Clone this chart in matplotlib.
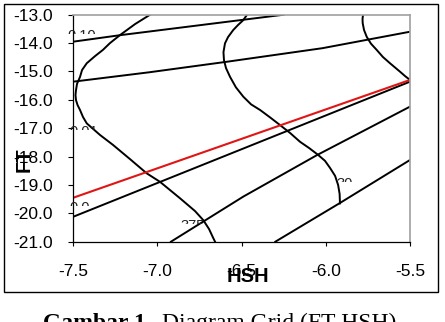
import matplotlib
matplotlib.use("Agg")
import matplotlib.pyplot as plt
from matplotlib.patches import Rectangle

# ---- data ----
line1_x = [-7.50, -7.22, -6.25]
line1_y = [-13.95, -13.72, -13.00]
line2_x = [-7.50, -7.05, -6.59, -6.02, -5.50]
line2_y = [-15.36, -15.03, -14.66, -14.18, -13.60]
red_x = [-7.50, -5.50]
red_y = [-19.45, -15.30]
line4_x = [-7.50, -5.50]
line4_y = [-20.12, -15.36]
line5_x = [-6.92, -6.49, -6.05, -5.50]
line5_y = [-21.00, -19.41, -17.94, -16.24]
line6_x = [-6.30, -5.92, -5.50]
line6_y = [-21.00, -19.65, -18.12]

curveA_x = [-7.044, -7.133, -7.223, -7.282, -7.324, -7.371, -7.420, -7.448,
            -7.460, -7.478, -7.484, -7.487, -7.484, -7.475, -7.460, -7.442,
            -7.420, -7.341, -7.264, -7.163, -7.064, -6.985, -6.866, -6.777,
            -6.728, -6.694, -6.668, -6.658]
curveA_y = [-13.00, -13.33, -13.72, -14.00, -14.24, -14.46, -14.71, -14.95,
            -15.19, -15.44, -15.66, -15.83, -16.01, -16.18, -16.36, -16.61,
            -16.83, -17.24, -17.59, -18.09, -18.59, -18.89, -19.47, -19.92,
            -20.24, -20.55, -20.88, -21.00]
curveB_x = [-6.468, -6.490, -6.521, -6.550, -6.581, -6.599, -6.608, -6.605,
            -6.593, -6.569, -6.534, -6.490, -6.444, -6.390, -6.331, -6.272,
            -6.212, -6.153, -6.099, -6.046, -6.005, -5.975, -5.945, -5.927,
            -5.918, -5.916]
curveB_y = [-13.00, -13.19, -13.36, -13.54, -13.79, -14.01, -14.32, -14.60,
            -14.88, -15.19, -15.56, -15.89, -16.16, -16.36, -16.62, -16.89,
            -17.17, -17.48, -17.70, -17.94, -18.15, -18.40, -18.68, -19.00,
            -19.32, -19.65]
curveC_x = [-5.779, -5.782, -5.781, -5.773, -5.757, -5.732, -5.698, -5.661,
            -5.619, -5.589, -5.559, -5.530, -5.500]
curveC_y = [-13.00, -13.15, -13.30, -13.54, -13.78, -14.02, -14.24, -14.49,
            -14.71, -14.86, -15.01, -15.16, -15.30]

label_texts = ["0.10", "0.01", "0.0", "375", "30"]
label_x = [-7.537, -7.525, -7.525, -6.866, -5.935]
label_y = [-13.50, -16.88, -19.56, -20.20, -18.72]

xticks = [-7.5, -7.0, -6.5, -6.0, -5.5]
yticks = [-21.0, -20.0, -19.0, -18.0, -17.0, -16.0, -15.0, -14.0, -13.0]

W, H = 445, 322
fig = plt.figure(figsize=(W / 100, H / 100), dpi=100)
fig.patch.set_facecolor("white")
plt.rcParams["font.family"] = ["Liberation Sans", "DejaVu Sans"]

ax = fig.add_axes([73.3 / W, 1 - 241.7 / H, (410 - 73.3) / W, (241.7 - 14.7) / H])

black_lines = [(line1_x, line1_y), (line2_x, line2_y), (line4_x, line4_y),
               (line5_x, line5_y), (line6_x, line6_y),
               (curveA_x, curveA_y), (curveB_x, curveB_y), (curveC_x, curveC_y)]
for xs, ys in black_lines:
    ax.plot(xs, ys, color="black", lw=1.4, solid_joinstyle="round")
ax.plot(red_x, red_y, color="#e01515", lw=1.5)

ax.set_xlim(-7.5, -5.5)
ax.set_ylim(-21.0, -13.0)
ax.set_xticks(xticks)
ax.set_yticks(yticks)
ax.set_xticklabels([f"{v:.1f}" for v in xticks])
ax.set_yticklabels([f"{v:.1f}" for v in yticks])
ax.tick_params(axis="y", direction="out", length=3.6, width=0.8, pad=11, labelsize=12.5)
ax.tick_params(axis="x", direction="out", length=3.2, width=0.8, pad=13, labelsize=12.5)
for s in ["left", "bottom"]:
    ax.spines[s].set_color("black")
    ax.spines[s].set_linewidth(0.9)
for s in ["top", "right"]:
    ax.spines[s].set_color("#a0a0a0")
    ax.spines[s].set_linewidth(1.2)

# partially hidden data labels
for t, x, y in zip(label_texts, label_x, label_y):
    txt = ax.text(x, y, t, fontsize=10.5, color="#222222", ha="left", va="top",
                  clip_on=True)
    clip = Rectangle((x - 0.5, y - 0.19), 1.5, 1.0, transform=ax.transData)
    txt.set_clip_path(clip)

# axis titles
fig.text(248 / W, 1 - 276 / H, "HSH", fontsize=14.5, fontweight="bold",
         ha="center", va="center")
fig.text(24 / W, 1 - 160 / H, "FT", fontsize=14.5, fontweight="bold",
         ha="center", va="center", rotation=90)

# outer frame
fig.patches.append(Rectangle((3.5 / W, 1 - 291.5 / H), (437.7 - 3.5) / W, (291.5 - 4.3) / H,
                             transform=fig.transFigure, fill=False,
                             edgecolor="black", lw=1.0))

# caption
fig.text(43 / W, 1 - 313 / H, "Gambar 1.", family="Liberation Serif",
         fontweight="bold", fontsize=17, ha="left", va="top")
fig.text(161.7 / W, 1 - 313 / H, "Diagram Grid (FT-HSH)", family="Liberation Serif",
         fontsize=17, ha="left", va="top")

fig.savefig("out.png", dpi=100, facecolor="white")
